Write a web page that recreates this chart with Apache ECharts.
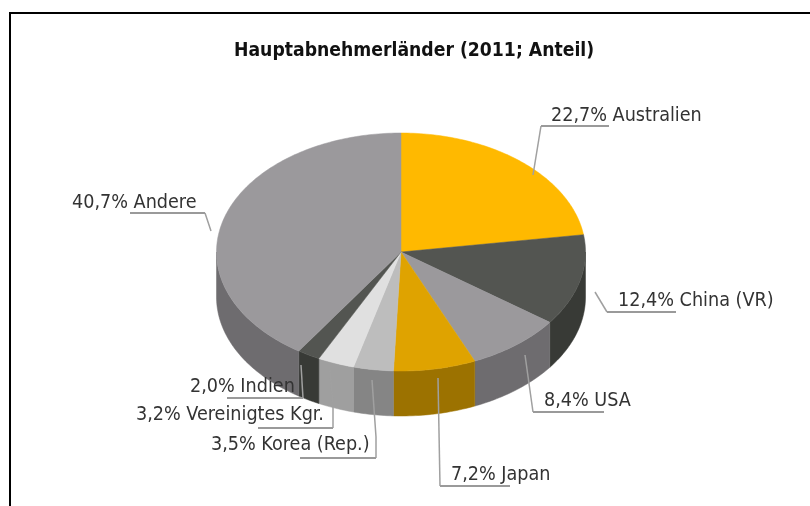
<!DOCTYPE html>
<html>
<head>
<meta charset="utf-8">
<style>html,body{margin:0;padding:0;background:#fff}#chart{width:810px;height:506px}</style>
<script src="https://cdn.jsdelivr.net/npm/echarts@6/dist/echarts.min.js"></script>
</head>
<body>
<div id="chart"></div>
<script>
// Hauptabnehmerlaender, Anteile in Prozent (im Uhrzeigersinn ab 12 Uhr)
var names = ['Australien', 'China (VR)', 'USA', 'Japan', 'Korea (Rep.)', 'Vereinigtes Kgr.', 'Indien', 'Andere'];
var shares = [22.7, 12.4, 8.4, 7.2, 3.5, 3.2, 2.0, 40.7];

var topColors = ['#ffb900', '#535551', '#9b999c', '#dfa300', '#bdbdbd', '#e0e0e0', '#535551', '#9b999c'];
var sideColors = ['#b08000', '#383a36', '#6e6c6f', '#9c7200', '#858585', '#9f9f9f', '#383a36', '#6e6c6f'];

// Beschriftung: Textanfang und Fuehrungslinie (erstes Stueck = Unterstreichung)
var labelPos = [[551, 116], [618, 301], [544, 401], [451, 475], [211, 445], [136, 415], [190, 387], [72, 203]];
var leaders = [
    [[609, 126], [541, 126], [533, 175]],
    [[676, 312], [607, 312], [595, 292]],
    [[604, 412], [533, 412], [525, 355]],
    [[510, 486], [440, 486], [438, 378]],
    [[300, 458], [376, 458], [376, 437], [372, 380]],
    [[258, 428], [333, 428], [333, 405], [330, 370]],
    [[227, 398], [303, 398], [301, 365]],
    [[130, 213], [205, 213], [211, 231]]
];

var cx = 401, cy = 252, rx = 184.5, ry = 119, depth = 45;
var fontName = '"DejaVu Sans Condensed", "DejaVu Sans", sans-serif';

var total = 0;
shares.forEach(function (v) { total += v; });
var sliceData = [];
var running = 0;
shares.forEach(function (v, i) {
    sliceData.push([running / total * 360, (running + v) / total * 360, i]);
    running += v;
});

function ellipsePoint(deg, dy) {
    var a = deg * Math.PI / 180;
    return [cx + rx * Math.sin(a), cy - ry * Math.cos(a) + dy];
}
function arcPoints(from, to, dy) {
    var pts = [];
    var n = Math.max(2, Math.ceil(Math.abs(to - from)));
    for (var k = 0; k <= n; k++) {
        pts.push(ellipsePoint(from + (to - from) * k / n, dy));
    }
    return pts;
}

function renderSide(params, api) {
    var from = Math.max(api.value(0), 90);
    var to = Math.min(api.value(1), 270);
    var i = api.value(2);
    if (to <= from) return null;
    var pts = arcPoints(from, to, 0).concat(arcPoints(to, from, depth));
    return {
        type: 'polygon',
        shape: { points: pts },
        style: { fill: sideColors[i], stroke: sideColors[i], lineWidth: 0.5 }
    };
}
function renderTop(params, api) {
    var i = api.value(2);
    var pts = [[cx, cy]].concat(arcPoints(api.value(0), api.value(1), 0));
    return {
        type: 'polygon',
        shape: { points: pts },
        style: { fill: topColors[i], stroke: topColors[i], lineWidth: 0.5 }
    };
}
function renderLeader(params, api) {
    var i = api.value(2);
    return {
        type: 'group',
        children: [{
            type: 'polyline',
            shape: { points: leaders[i].slice(1) },
            style: { fill: null, stroke: '#a0a0a0', lineWidth: 1.5 }
        }, {
            type: 'polyline',
            shape: { points: leaders[i].slice(0, 2) },
            style: { fill: null, stroke: '#9a9a9a', lineWidth: 2 }
        }, {
            type: 'text',
            x: labelPos[i][0],
            y: labelPos[i][1],
            style: {
                text: shares[i].toFixed(1).replace('.', ',') + '% ' + names[i],
                fill: '#333333',
                fontFamily: fontName,
                fontSize: 19.6,
                align: 'left',
                verticalAlign: 'middle'
            }
        }]
    };
}

var chart = echarts.init(document.getElementById('chart'));
chart.setOption({
    animation: false,
    title: {
        text: 'Hauptabnehmerländer (2011; Anteil)',
        left: 229,
        top: 37,
        textStyle: { color: '#111', fontFamily: fontName, fontSize: 19.2, fontWeight: 'bold' }
    },
    graphic: [
        { type: 'line', shape: { x1: 10, y1: 13, x2: 810, y2: 13 }, style: { stroke: '#000', lineWidth: 2 } },
        { type: 'line', shape: { x1: 10, y1: 12, x2: 10, y2: 506 }, style: { stroke: '#000', lineWidth: 2 } }
    ],
    series: [
        { type: 'custom', coordinateSystem: 'none', silent: true, data: sliceData, renderItem: renderSide, z: 1 },
        { type: 'custom', coordinateSystem: 'none', silent: true, data: sliceData, renderItem: renderTop, z: 2 },
        { type: 'custom', coordinateSystem: 'none', silent: true, data: sliceData, renderItem: renderLeader, z: 3 }
    ]
});
</script>
</body>
</html>
